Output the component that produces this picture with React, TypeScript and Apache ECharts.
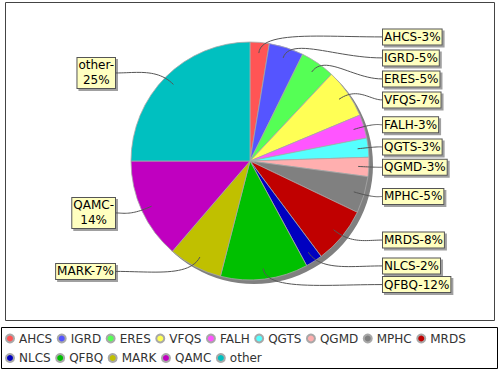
import React, { useEffect, useRef } from 'react';
import * as echarts from 'echarts';

const categories = ['AHCS', 'IGRD', 'ERES', 'VFQS', 'FALH', 'QGTS', 'QGMD', 'MPHC', 'MRDS', 'NLCS', 'QFBQ', 'MARK', 'QAMC', 'other'];
const values = [2.6, 4.7, 4.7, 6.7, 3.2, 2.6, 2.6, 5.0, 7.7, 2.3, 11.9, 7.3, 13.7, 25.0];
const colors = ['#ff5555', '#5555ff', '#55ff55', '#ffff55', '#ff55ff', '#55ffff', '#ffafaf', '#808080', '#c00000', '#0000c0', '#00c000', '#c0c000', '#c000c0', '#00c0c0'];
const wrappedLabels = ['QAMC', 'other'];

const CX = 250;
const CY = 161;
const R = 119;
const LABEL_R = 124.5;
const RIGHT_X = 382;
const LEFT_X = 116;
const LINE_H = 15;
const GAP = 6;
const FONT = 'DejaVu Sans';

type Item = { i: number; mid: number; h: number; right: boolean; y: number };

function computeLabelLayout(): Item[] {
  const total = values.reduce((a, b) => a + b, 0);
  let acc = 0;
  const items: Item[] = values.map((v, i) => {
    const mid = ((acc + v / 2) / total) * Math.PI * 2;
    acc += v;
    const lines = wrappedLabels.includes(categories[i]) ? 2 : 1;
    return { i, mid, h: lines * LINE_H, right: mid < Math.PI, y: CY - Math.cos(mid) * LABEL_R };
  });
  for (const side of [true, false]) {
    const list = items.filter((it) => it.right === side).sort((a, b) => a.y - b.y);
    let lower = 0;
    let upper = list.length - 1;
    while (upper > lower) {
      if (lower < upper - 1) {
        const r0 = list[lower];
        const r1 = list[lower + 1];
        if (r1.y - r1.h / 2 < r0.y + r0.h / 2) r1.y = r0.y + r0.h / 2 + GAP + r1.h / 2;
      }
      const r2 = list[upper - 1];
      const r3 = list[upper];
      if (r2.y + r2.h / 2 > r3.y - r3.h / 2) r2.y = r3.y - r3.h / 2 - GAP - r2.h / 2;
      lower++;
      upper--;
    }
  }
  return items;
}

function cubic(p0: number[], p1: number[], p2: number[], p3: number[], n: number) {
  const pts: number[][] = [];
  for (let k = 0; k <= n; k++) {
    const t = k / n;
    const u = 1 - t;
    const a = u * u * u, b = 3 * u * u * t, c = 3 * u * t * t, d = t * t * t;
    pts.push([a * p0[0] + b * p1[0] + c * p2[0] + d * p3[0], a * p0[1] + b * p1[1] + c * p2[1] + d * p3[1]]);
  }
  return pts;
}

function linkPoints(it: Item) {
  const lx = it.right ? RIGHT_X : LEFT_X;
  const s = Math.sin(it.mid);
  const c = Math.cos(it.mid);
  const A = [CX + s * R * 0.91, CY - c * R * 0.91];
  const E = [CX + s * R * 1.1, CY - c * R * 1.1];
  const P2 = [E[0] + (lx - E[0]) * 0.5, it.y];
  const P3 = [lx, it.y];
  return cubic(A, E, P2, P3, 24);
}

export default function App() {
  const ref = useRef<HTMLDivElement>(null);
  useEffect(() => {
    if (!ref.current) return;
    const chart = echarts.init(ref.current, undefined, { renderer: 'svg' });
    const layout = computeLabelLayout();
    const links = layout.map((it) => ({
      type: 'polyline',
      silent: true,
      z: 5,
      shape: { points: linkPoints(it) },
      style: { fill: 'none', stroke: '#555', lineWidth: 1 },
    }));
    const option: any = {
      animation: false,
      textStyle: { fontFamily: FONT },
      graphic: [
        { type: 'rect', silent: true, shape: { x: 5.5, y: 2.5, width: 489, height: 318 }, style: { fill: 'none', stroke: '#444', lineWidth: 1 }, z: 0 },
        { type: 'rect', silent: true, shape: { x: 1.5, y: 327.5, width: 496, height: 41 }, style: { fill: 'none', stroke: '#000', lineWidth: 1 }, z: 0 },
        ...links,
      ],
      legend: {
        data: categories,
        icon: 'circle',
        itemWidth: 8,
        itemHeight: 8,
        itemGap: 4.5,
        left: 5,
        right: 5,
        top: 331,
        padding: 0,
        textStyle: { fontFamily: FONT, fontSize: 12, lineHeight: 15, color: '#333' },
      },
      series: [
        {
          type: 'pie',
          name: 'shadow',
          center: [CX + 4, CY + 4],
          radius: R,
          silent: true,
          z: 1,
          label: { show: false },
          labelLine: { show: false },
          emphasis: { disabled: true },
          data: [{ name: '__shadow', value: 1, itemStyle: { color: '#808080' } }],
        },
        {
          type: 'pie',
          name: 'main',
          center: [CX, CY],
          radius: R,
          startAngle: 90,
          clockwise: true,
          z: 2,
          avoidLabelOverlap: false,
          emphasis: { disabled: true },
          itemStyle: { borderColor: '#a8a8a8', borderWidth: 0.8 },
          data: categories.map((c, i) => ({ name: c, value: values[i], itemStyle: { color: colors[i] } })),
          label: {
            show: true,
            position: 'outside',
            fontFamily: FONT,
            fontSize: 12,
            lineHeight: LINE_H,
            color: '#000',
            backgroundColor: '#ffffc0',
            borderColor: '#555',
            borderWidth: 1,
            padding: [0, 1],
            shadowColor: '#a0a0a0',
            shadowOffsetX: 2,
            shadowOffsetY: 2,
            shadowBlur: 0,
            formatter: (p: any) => {
              const pct = Math.round(p.percent);
              return wrappedLabels.includes(p.name) ? `${p.name}-\n${pct}%` : `${p.name}-${pct}%`;
            },
          },
          labelLine: { show: false },
          labelLayout: (p: any) => {
            const it = layout[p.dataIndex];
            if (!it) return {};
            const w = p.labelRect.width;
            return {
              x: it.right ? RIGHT_X + w / 2 : LEFT_X - w / 2,
              y: it.y,
              align: 'center',
              verticalAlign: 'middle',
            };
          },
        },
      ],
    };
    chart.setOption(option);
    return () => chart.dispose();
  }, []);
  return <div ref={ref} style={{ position: 'fixed', left: 0, top: 0, width: 500, height: 370, background: '#fff' }} />;
}
